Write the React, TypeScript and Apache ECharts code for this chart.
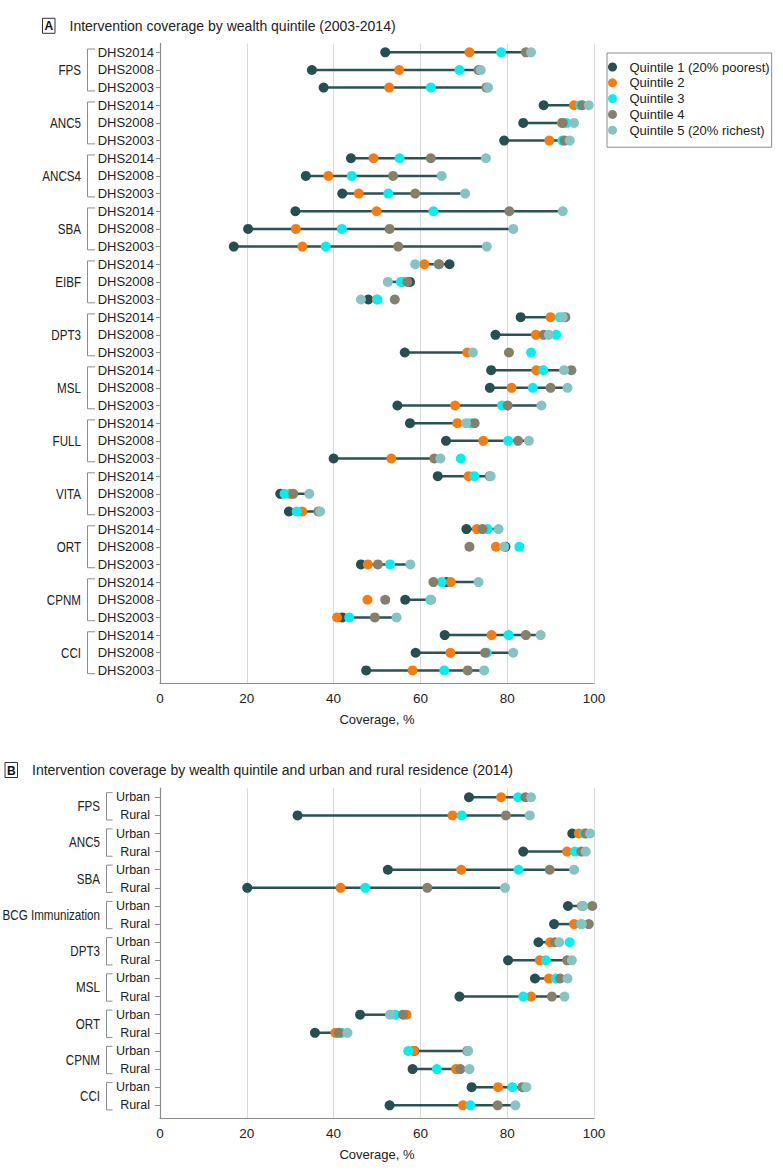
import React, { useEffect, useRef } from "react";
import * as echarts from "echarts";

const FONT = "'Liberation Sans', Arial, Helvetica, sans-serif";

// ---------- Panel A data ----------
const groupsA = ["FPS", "ANC5", "ANCS4", "SBA", "EIBF", "DPT3", "MSL", "FULL", "VITA", "ORT", "CPNM", "CCI"];
const surveysA = ["DHS2014", "DHS2008", "DHS2003"];
const q1A = [51.9, 35.0, 37.7, 88.4, 83.7, 79.3, 44.0, 33.6, 42.0, 31.2, 20.3, 17.0, 66.7, 57.6, 48.0, 83.1, 77.3, 56.4, 76.3, 76.0, 54.7, 57.6, 65.9, 40.0, 64.0, 27.7, 29.7, 70.6, 79.6, 46.3, 66.0, 56.5, 42.0, 65.6, 58.9, 47.5];
const q2A = [71.3, 55.1, 52.8, 95.4, 92.6, 89.7, 49.2, 38.8, 45.8, 49.9, 31.3, 32.8, 60.9, 55.8, 50.0, 90.0, 86.6, 70.8, 86.7, 81.0, 68.0, 68.5, 74.5, 53.3, 71.1, 30.0, 32.8, 73.0, 77.4, 47.9, 67.0, 47.8, 40.8, 76.4, 66.9, 58.2];
const q3A = [78.6, 69.0, 62.4, 96.8, 93.6, 92.7, 55.2, 44.2, 52.6, 63.0, 41.9, 38.2, 64.2, 55.5, 50.1, 92.1, 91.3, 85.5, 88.3, 85.9, 78.8, 71.5, 80.2, 69.3, 72.4, 28.7, 31.5, 75.5, 82.8, 53.0, 64.9, 62.3, 43.6, 80.3, 75.3, 65.5];
const q4A = [84.3, 73.4, 75.2, 97.3, 92.8, 93.2, 62.4, 53.7, 58.8, 80.5, 52.9, 54.9, 64.3, 57.0, 54.1, 93.4, 88.4, 80.4, 94.8, 90.0, 80.1, 72.5, 82.5, 63.2, 76.0, 30.7, 36.5, 74.3, 71.3, 50.2, 63.0, 51.9, 49.5, 84.3, 74.9, 70.9];
const q5A = [85.5, 73.9, 75.6, 98.8, 95.4, 94.4, 75.1, 64.9, 70.3, 92.8, 81.4, 75.3, 58.8, 52.5, 46.3, 92.8, 89.6, 72.1, 93.1, 93.9, 87.9, 70.5, 85.0, 64.6, 76.2, 34.4, 36.9, 78.0, 79.3, 57.7, 73.4, 62.5, 54.5, 87.7, 81.4, 74.7];

// ---------- Panel B data ----------
const groupsB = ["FPS", "ANC5", "SBA", "BCG Immunization", "DPT3", "MSL", "ORT", "CPNM", "CCI"];
const residenceB = ["Urban", "Rural"];
const q1B = [71.2, 31.7, 95.0, 83.7, 52.5, 20.1, 94.0, 90.8, 87.2, 80.2, 86.4, 69.0, 46.1, 35.7, 58.6, 58.2, 71.8, 52.9];
const q2B = [78.6, 67.4, 96.5, 93.8, 69.4, 41.6, 97.2, 95.4, 89.9, 87.5, 89.6, 85.5, 56.8, 40.4, 58.5, 68.2, 77.9, 69.8];
const q3B = [82.5, 69.5, 97.8, 95.6, 82.6, 47.3, 97.5, 97.0, 94.4, 88.9, 91.2, 83.7, 54.2, 41.8, 57.2, 63.8, 81.2, 71.5];
const q4B = [84.2, 79.7, 98.1, 97.1, 89.8, 61.6, 99.6, 98.8, 91.0, 93.8, 92.2, 90.3, 56.0, 41.2, 70.8, 69.2, 83.5, 77.8];
const q5B = [85.5, 85.2, 99.1, 98.1, 95.4, 79.5, 97.4, 97.2, 92.0, 94.9, 93.9, 93.2, 53.0, 43.2, 71.0, 71.3, 84.4, 81.9];

const quintileNames = ["Quintile 1 (20% poorest)", "Quintile 2", "Quintile 3", "Quintile 4", "Quintile 5 (20% richest)"];
const quintileColors = ["#264f51", "#f47c10", "#08eef0", "#867f6b", "#88c3c3"];
const LINE_COLOR = "#2c5253";
const titleA = "Intervention coverage by wealth quintile (2003-2014)";
const titleB = "Intervention coverage by wealth quintile and urban and rural residence (2014)";
const xAxisName = "Coverage, %";

const rowLabelsA = groupsA.flatMap(() => surveysA);
const rowLabelsB = groupsB.flatMap(() => residenceB);

// layout
const W = 783;
const H = 1175;
const PLOT_LEFT = 160;
const PLOT_W = 434;
const A_TOP = 43.47;
const A_STEP = 17.66;
const A_AXIS = 683.3;
const B_TOP = 788.2;
const B_STEP = 18.12;
const B_AXIS = 1118;
const TXT = "#222";
const GREY = "#8c8c8c";

function lineSeries(q1: number[], q5: number[], axisIndex: number) {
  return {
    type: "custom",
    xAxisIndex: axisIndex,
    yAxisIndex: axisIndex,
    z: 1,
    silent: true,
    data: q1.map((v, i) => [v, q5[i], i]),
    encode: { x: [0, 1], y: 2 },
    renderItem: (params: any, api: any) => {
      const row = api.value(2);
      const p1 = api.coord([api.value(0), row]);
      const p2 = api.coord([api.value(1), row]);
      return {
        type: "line",
        shape: { x1: p1[0], y1: p1[1], x2: p2[0], y2: p2[1] },
        style: { stroke: LINE_COLOR, lineWidth: 2.5 },
      };
    },
  };
}

function dotSeries(arrs: number[][], axisIndex: number) {
  return arrs.map((arr, k) => ({
    type: "scatter",
    name: quintileNames[k],
    xAxisIndex: axisIndex,
    yAxisIndex: axisIndex,
    z: 2,
    symbol: "circle",
    symbolSize: 10,
    itemStyle: { color: quintileColors[k], opacity: 1 },
    data: arr.map((v, i) => [v, i]),
  }));
}

function valueX(gridIndex: number) {
  return {
    type: "value",
    gridIndex,
    min: 0,
    max: 100,
    interval: 20,
    axisLine: { show: true, onZero: false, lineStyle: { color: GREY, width: 1.2 } },
    axisTick: { show: false },
    axisLabel: { color: TXT, fontSize: 13.5, fontFamily: FONT, margin: 8 },
    splitLine: { show: true, lineStyle: { color: "#dadada", width: 1 } },
    name: xAxisName,
    nameLocation: "middle",
    nameGap: 30,
    nameTextStyle: { color: TXT, fontSize: 13, fontFamily: FONT },
  };
}

function hiddenX(gridIndex: number) {
  return { type: "value", gridIndex, min: 0, max: 100, show: false };
}

function valueY(gridIndex: number, max: number) {
  return {
    type: "value",
    gridIndex,
    inverse: true,
    min: -0.5,
    max,
    axisLine: { show: true, onZero: false, lineStyle: { color: GREY, width: 1.2 } },
    axisTick: { show: false },
    axisLabel: { show: false },
    splitLine: { show: false },
  };
}

function catY(gridIndex: number, data: string[], margin: number, tickLen: number, fontSize: number) {
  return {
    type: "category",
    gridIndex,
    inverse: true,
    data,
    axisLine: { show: false },
    axisTick: { show: true, alignWithLabel: true, length: tickLen, lineStyle: { color: GREY } },
    axisLabel: { interval: 0, color: TXT, fontSize, fontFamily: FONT, margin },
    splitLine: { show: false },
  };
}

export default function App() {
  const ref = useRef<HTMLDivElement>(null);

  useEffect(() => {
    if (!ref.current) return;
    const chart = echarts.init(ref.current, null, { renderer: "svg", width: W, height: H });

    const aDataH = A_AXIS - A_TOP;
    const bDataH = B_AXIS - B_TOP;

    const option: any = {
      animation: false,
      backgroundColor: "#ffffff",
      textStyle: { fontFamily: FONT },
      grid: [
        { left: PLOT_LEFT, width: PLOT_W, top: A_TOP, height: aDataH },
        { left: PLOT_LEFT, width: PLOT_W, top: A_TOP, height: A_STEP * rowLabelsA.length },
        { left: PLOT_LEFT, width: PLOT_W, top: B_TOP, height: bDataH },
        { left: PLOT_LEFT, width: PLOT_W, top: B_TOP, height: B_STEP * rowLabelsB.length },
      ],
      xAxis: [valueX(0), hiddenX(1), valueX(2), hiddenX(3)],
      yAxis: [
        valueY(0, aDataH / A_STEP - 0.5),
        catY(1, rowLabelsA, 6, 4, 13),
        valueY(2, bDataH / B_STEP - 0.5),
        catY(3, rowLabelsB, 10, 5, 12.5),
      ],
      legend: {
        data: quintileNames,
        orient: "vertical",
        left: 607,
        top: 53,
        icon: "circle",
        itemWidth: 24,
        itemHeight: 9,
        itemGap: 1.8,
        padding: [7, 2, 10, 1],
        borderColor: GREY,
        borderWidth: 1,
        selectedMode: false,
        textStyle: { color: TXT, fontSize: 13, fontFamily: FONT, lineHeight: 14 },
      },
      series: [
        lineSeries(q1A, q5A, 0),
        ...dotSeries([q1A, q2A, q3A, q4A, q5A], 0),
        lineSeries(q1B, q5B, 2),
        ...dotSeries([q1B, q2B, q3B, q4B, q5B], 2),
      ],
    };
    chart.setOption(option);

    const graphics: any[] = [];
    const addTitle = (letter: string, text: string, bx: number, cy: number) => {
      graphics.push({
        type: "rect",
        shape: { x: bx, y: cy - 7.5, width: 12.5, height: 15 },
        style: { fill: "#fff", stroke: "#333", lineWidth: 1 },
      });
      graphics.push({
        type: "text",
        x: bx + 6.25,
        y: cy + 0.5,
        style: { text: letter, fill: "#111", font: `bold 12px ${FONT}`, textAlign: "center", textVerticalAlign: "middle" },
      });
      graphics.push({
        type: "text",
        x: bx + 27,
        y: cy,
        style: { text, fill: TXT, font: `14px ${FONT}`, textAlign: "left", textVerticalAlign: "middle" },
      });
    };
    addTitle("A", titleA, 42.5, 25.8);
    addTitle("B", titleB, 5, 770);

    const rowY = (axis: number, i: number) => chart.convertToPixel({ xAxisIndex: axis, yAxisIndex: axis } as any, [0, i])[1];

    const groupLabel = (g: string, x: number, y: number) => ({
      type: "text",
      x,
      y,
      scaleX: 0.83,
      style: { text: g, fill: TXT, font: `14px ${FONT}`, textAlign: "right", textVerticalAlign: "middle" },
    });

    groupsA.forEach((g, gi) => {
      const yTop = rowY(0, gi * 3) - 3.3;
      const yMid = rowY(0, gi * 3 + 1);
      const yBot = rowY(0, gi * 3 + 2) + 3.3;
      graphics.push({
        type: "polyline",
        shape: { points: [[95, yTop], [87.5, yTop], [87.5, yBot], [95, yBot]] },
        style: { stroke: GREY, lineWidth: 1, fill: "none" },
      });
      graphics.push(groupLabel(g, 81, yMid));
    });

    groupsB.forEach((g, gi) => {
      const y0 = rowY(2, gi * 2);
      const y1 = rowY(2, gi * 2 + 1);
      const yTop = y0 - 4.6;
      const yBot = y1 + 4.6;
      graphics.push({
        type: "polyline",
        shape: { points: [[112.5, yTop], [106.5, yTop], [106.5, yBot], [112.5, yBot]] },
        style: { stroke: GREY, lineWidth: 1, fill: "none" },
      });
      graphics.push(groupLabel(g, 100, (y0 + y1) / 2));
    });

    chart.setOption({ graphic: graphics });

    return () => {
      chart.dispose();
    };
  }, []);

  return (
    <div
      ref={ref}
      style={{ position: "absolute", left: 0, top: 0, width: W, height: H, background: "#fff" }}
    />
  );
}
